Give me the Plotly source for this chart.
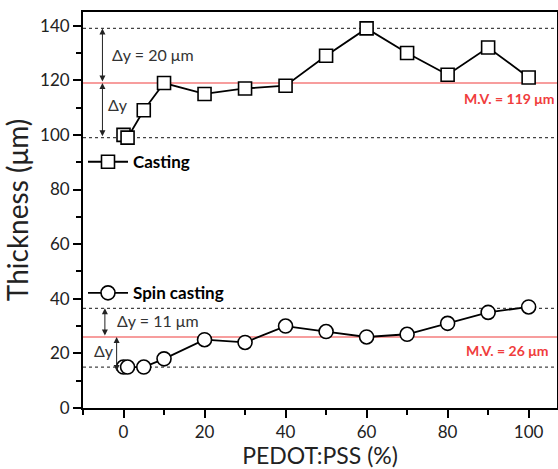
import plotly.graph_objects as go

# ---- data ----
pedot = [0, 1, 5, 10, 20, 30, 40, 50, 60, 70, 80, 90, 100]
casting = [100, 99, 109, 119, 115, 117, 118, 129, 139, 130, 122, 132, 121]
spin = [15, 15, 15, 18, 25, 24, 30, 28, 26, 27, 31, 35, 37]

casting_mv = 119
casting_lo, casting_hi = 99, 139
spin_mv = 26
spin_lo, spin_hi = 15, 36.5

x_range = [-10, 107]
y_range = [0, 145]

FONT = "Lato"
DARK = "#333333"
RED = "#f03c3c"

fig = go.Figure()

fig.add_trace(go.Scatter(
    x=pedot, y=casting, mode="lines+markers", name="Casting",
    line=dict(color="black", width=1.8),
    marker=dict(symbol="square", size=13, color="white",
                line=dict(color="black", width=1.6)),
    legend="legend", showlegend=True,
))
fig.add_trace(go.Scatter(
    x=pedot, y=spin, mode="lines+markers", name="Spin casting",
    line=dict(color="black", width=1.8),
    marker=dict(symbol="circle", size=14, color="white",
                line=dict(color="black", width=1.6)),
    legend="legend2", showlegend=True,
))

# reference lines
for yv in (casting_lo, casting_hi, spin_lo, spin_hi):
    fig.add_shape(type="line", xref="paper", x0=0, x1=1, yref="y", y0=yv, y1=yv,
                  line=dict(color="#444444", width=1.3, dash="dot"), layer="below")
for yv in (casting_mv, spin_mv):
    fig.add_shape(type="line", xref="paper", x0=0, x1=1, yref="y", y0=yv, y1=yv,
                  line=dict(color=RED, width=1.2), layer="below")

# arrows
def darrow(x, y0, y1):
    fig.add_annotation(x=x, y=y1, ax=x, ay=y0, axref="x", ayref="y", xref="x", yref="y",
                       text="", showarrow=True, arrowhead=2, arrowside="end+start",
                       arrowsize=1.2, arrowwidth=1, arrowcolor="#222222",
                       standoff=0, startstandoff=0)

darrow(-5.2, casting_mv, casting_hi)
darrow(-5.2, casting_lo, casting_mv)
darrow(-4.6, spin_mv, spin_hi)
darrow(-1.7, spin_lo - 2, spin_mv)

def label(x, y, t, size=16, color=DARK, bold=False, xanchor="left", xref="x"):
    fig.add_annotation(x=x, y=y, xref=xref, yref="y", text=("<b>%s</b>" % t) if bold else t,
                       showarrow=False, xanchor=xanchor, yanchor="middle",
                       font=dict(family=FONT, size=size, color=color))

label(-3.4, 129.5, "Δy = 20 μm")
label(-4.4, 111, "Δy")
label(-2.2, 32, "Δy = 11 μm")
label(-7.9, 21, "Δy")
label(1.0, casting_mv - 5.5, "M.V. = 119 μm", size=14, color=RED, bold=True, xanchor="right", xref="paper")
label(0.985, spin_mv - 4.8, "M.V. = 26 μm", size=14, color=RED, bold=True, xanchor="right", xref="paper")

axis_common = dict(
    showline=True, linecolor="black", linewidth=1.8, mirror=True,
    ticks="outside", ticklen=8, tickwidth=1.5, tickcolor="black",
    showgrid=False, zeroline=False, automargin=False,
    tickfont=dict(family=FONT, size=17, color="#222222"),
)

fig.update_xaxes(range=x_range, dtick=20, tick0=0,
                 minor=dict(dtick=10, tick0=0, ticks="outside", ticklen=5, tickwidth=1.5, tickcolor="black"),
                 title=dict(text="PEDOT:PSS (%)", font=dict(family=FONT, size=23, color="#222222"), standoff=14),
                 **axis_common)
fig.update_yaxes(range=y_range, dtick=20, tick0=0,
                 minor=dict(dtick=10, tick0=0, ticks="outside", ticklen=5, tickwidth=1.5, tickcolor="black"),
                 title=dict(text="Thickness (μm)", font=dict(family=FONT, size=28, color="#222222"), standoff=6),
                 **axis_common)

legfont = dict(family=FONT, size=17, color="black", weight="bold")
fig.update_layout(
    width=558, height=469,
    margin=dict(l=83, r=1, t=12, b=61),
    plot_bgcolor="white", paper_bgcolor="white",
    showlegend=True,
    legend=dict(x=0, y=90 / 145, xanchor="left", yanchor="middle", bgcolor="rgba(0,0,0,0)",
                font=legfont, itemwidth=40, tracegroupgap=0),
    legend2=dict(x=0, y=42 / 145, xanchor="left", yanchor="middle", bgcolor="rgba(0,0,0,0)",
                 font=legfont, itemwidth=40, tracegroupgap=0),
)

fig.write_html("out.html")
